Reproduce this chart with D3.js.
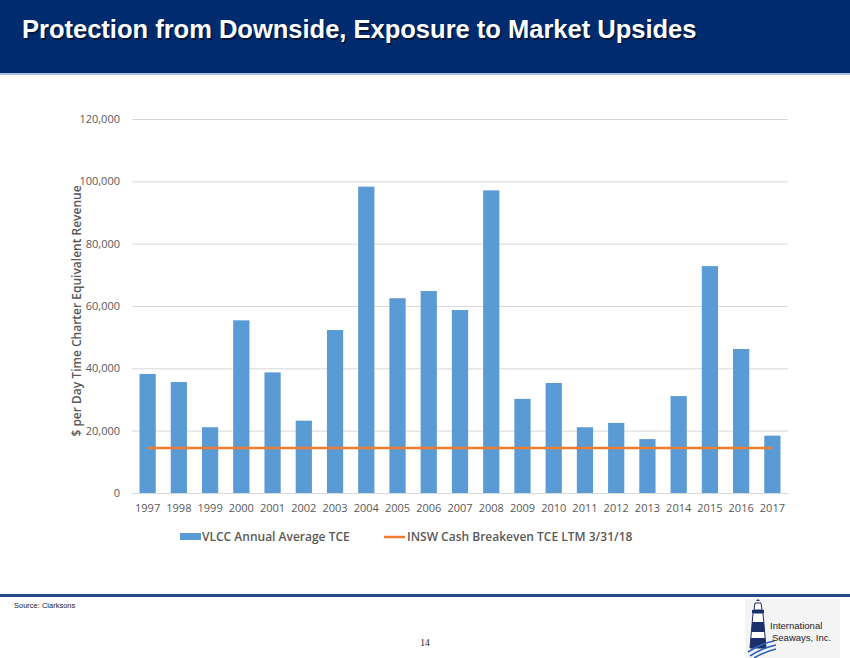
<!DOCTYPE html>
<html>
<head>
<meta charset="utf-8">
<script src="https://cdn.jsdelivr.net/npm/d3@7"></script>
<style>
  body { margin: 0; background: #fff; }
  svg { display: block; }
</style>
</head>
<body>
<div id="chart"></div>
<script>
// VLCC annual average TCE, $ per day
const years = ["1997", "1998", "1999", "2000", "2001", "2002", "2003", "2004", "2005", "2006", "2007",
  "2008", "2009", "2010", "2011", "2012", "2013", "2014", "2015", "2016", "2017"];
const tce = [38200, 35600, 21100, 55400, 38700, 23200, 52300, 98300, 62500, 64800, 58700,
  97100, 30200, 35300, 21100, 22500, 17300, 31100, 72800, 46200, 18400];
const breakeven = 14400; // INSW cash breakeven TCE LTM 3/31/18
const yTicks = [0, 20000, 40000, 60000, 80000, 100000, 120000];
const seriesNames = ["VLCC Annual Average TCE", "INSW Cash Breakeven TCE LTM 3/31/18"];

const width = 850, height = 658;
const marginLeft = 132, marginRight = 62, marginTop = 119, marginBottom = 165;
const barColor = "#5B9BD5", lineColor = "#ED7D31", textColor = "#595959";
const font = "'Open Sans', sans-serif";

const svg = d3.select("#chart").append("svg")
    .attr("width", width)
    .attr("height", height)
    .attr("viewBox", [0, 0, width, height]);

// header band
svg.append("rect").attr("x", 0).attr("y", 0).attr("width", width).attr("height", 74).attr("fill", "#002B6F");
svg.append("rect").attr("x", 0).attr("y", 73).attr("width", width).attr("height", 2).attr("fill", "#A9C2E3");
const titleText = "Protection from Downside, Exposure to Market Upsides";
svg.append("text")
    .attr("x", 23.5).attr("y", 39.5)
    .attr("fill", "#000").attr("opacity", 0.45)
    .attr("font-family", "'Liberation Sans', Arial, sans-serif")
    .attr("font-weight", "bold").attr("font-size", 25.5)
    .text(titleText);
svg.append("text")
    .attr("x", 22).attr("y", 38)
    .attr("fill", "#fff")
    .attr("font-family", "'Liberation Sans', Arial, sans-serif")
    .attr("font-weight", "bold").attr("font-size", 25.5)
    .text(titleText);

// scales
const x = d3.scaleBand(years, [marginLeft, width - marginRight]).paddingInner(0.48).paddingOuter(0.24);
const y = d3.scaleLinear([0, 120000], [height - marginBottom, marginTop]);

// gridlines + y axis
svg.append("g")
    .attr("transform", `translate(${marginLeft},0)`)
    .call(d3.axisLeft(y).tickValues(yTicks).tickFormat(d3.format(",")).tickSize(0).tickPadding(12))
    .call(g => g.select(".domain").remove())
    .call(g => g.selectAll(".tick line").clone()
        .attr("x2", width - marginLeft - marginRight)
        .attr("stroke", "#D9D9D9"))
    .call(g => g.selectAll(".tick text")
        .attr("fill", textColor)
        .attr("font-family", font)
        .attr("font-size", 11));

// bars
svg.append("g")
    .attr("fill", barColor)
  .selectAll("rect")
  .data(years)
  .join("rect")
    .attr("x", d => x(d))
    .attr("y", (d, i) => y(tce[i]))
    .attr("width", x.bandwidth())
    .attr("height", (d, i) => y(0) - y(tce[i]));

// x axis
svg.append("g")
    .attr("transform", `translate(0,${y(0)})`)
    .call(d3.axisBottom(x).tickSize(0).tickPadding(11))
    .call(g => g.select(".domain").attr("stroke", "#D9D9D9"))
    .call(g => g.selectAll(".tick text")
        .attr("fill", textColor)
        .attr("font-family", font)
        .attr("font-size", 11));

// breakeven line
svg.append("line")
    .attr("x1", x(years[0]) + x.bandwidth() / 2)
    .attr("x2", x(years[years.length - 1]) + x.bandwidth() / 2)
    .attr("y1", y(breakeven))
    .attr("y2", y(breakeven))
    .attr("stroke", lineColor)
    .attr("stroke-width", 2.5);

// y label
svg.append("text")
    .attr("transform", "translate(81,311) rotate(-90)")
    .attr("text-anchor", "middle")
    .attr("fill", textColor)
    .attr("font-family", font)
    .attr("font-weight", 600)
    .attr("font-size", 12)
    .text("$ per Day Time Charter Equivalent Revenue");

// legend
const legend = svg.append("g")
    .attr("font-family", font)
    .attr("font-size", 12)
    .attr("font-weight", 600)
    .attr("fill", textColor);
legend.append("rect").attr("x", 180).attr("y", 533).attr("width", 21).attr("height", 7).attr("fill", barColor);
legend.append("text").attr("x", 202).attr("y", 541).text(seriesNames[0]);
legend.append("line").attr("x1", 384).attr("x2", 405).attr("y1", 537).attr("y2", 537)
    .attr("stroke", lineColor).attr("stroke-width", 2.5);
legend.append("text").attr("x", 407).attr("y", 541).text(seriesNames[1]);

// footer
svg.append("rect").attr("x", 0).attr("y", 594).attr("width", width).attr("height", 3).attr("fill", "#1F4B8A");
svg.append("text")
    .attr("x", 14).attr("y", 608)
    .attr("font-family", "'Liberation Sans', Arial, sans-serif")
    .attr("font-size", 7.5)
    .attr("fill", "#222")
    .text("Source:  Clarksons");
svg.append("text")
    .attr("x", 425).attr("y", 646)
    .attr("text-anchor", "middle")
    .attr("font-family", "'Liberation Serif', serif")
    .attr("font-size", 9.5)
    .attr("fill", "#222")
    .text("14");

// logo
const navy = "#1B2F6B";
const logo = svg.append("g");
logo.append("rect").attr("x", 745).attr("y", 599).attr("width", 95).attr("height", 59).attr("fill", "#F4F4F4");
logo.append("path").attr("d", "M753,613 L763,613 L766,648 L750,648 Z").attr("fill", "#fff").attr("stroke", navy).attr("stroke-width", 1);
logo.append("path").attr("d", "M752.2,622 L763.8,622 L764.6,632 L751.4,632 Z").attr("fill", navy);
logo.append("path").attr("d", "M750.9,638 L765.1,638 L766,648 L750,648 Z").attr("fill", navy);
logo.append("path").attr("d", "M752,610 L764,610 L764,613 L752,613 Z").attr("fill", navy);
logo.append("path").attr("d", "M755,603 L761,603 L762,610 L754,610 Z").attr("fill", "#fff").attr("stroke", navy).attr("stroke-width", 1);
logo.append("path").attr("d", "M756,601 L760,601 L758,599 Z").attr("fill", navy);
logo.append("path").attr("d", "M748,652 Q760,644 774,641 M750,656 Q762,648 776,645 M754,658 Q764,652 776,649")
    .attr("fill", "none").attr("stroke", "#2C63B5").attr("stroke-width", 1.6);
logo.append("text").attr("x", 770).attr("y", 629).attr("font-family", "'Liberation Sans', Arial, sans-serif")
    .attr("font-size", 9.5).attr("fill", "#1A1A2E").text("International");
logo.append("text").attr("x", 772).attr("y", 641).attr("font-family", "'Liberation Sans', Arial, sans-serif")
    .attr("font-size", 9.5).attr("fill", "#1A1A2E").text("Seaways, Inc.");
</script>
</body>
</html>
